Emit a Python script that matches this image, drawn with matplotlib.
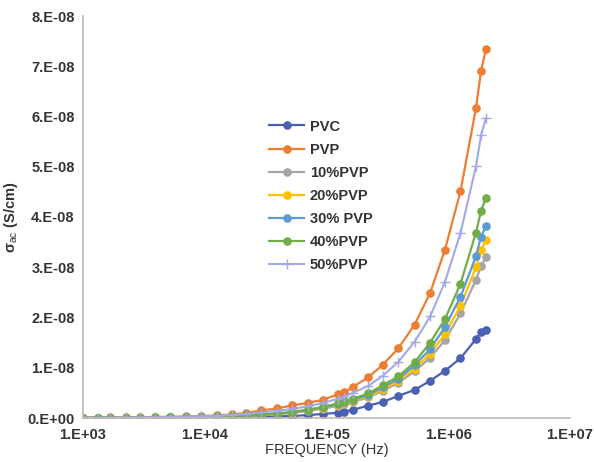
import matplotlib
matplotlib.use("Agg")
import matplotlib.pyplot as plt
from matplotlib.ticker import FuncFormatter, FixedLocator
import numpy as np

plt.rcParams['font.family'] = ['Liberation Sans', 'DejaVu Sans']
plt.rcParams['mathtext.fontset'] = 'custom'
plt.rcParams['mathtext.rm'] = 'Liberation Sans'

freq = [1000, 1340, 1670, 2250, 2940, 3900, 5200, 7000, 9400, 12500, 16600, 22000,
        29000, 39000, 52000, 70000, 93000, 124000, 140000, 165000, 220000, 290000,
        390000, 530000, 710000, 940000, 1260000, 1690000, 1860000, 2040000]

# values in units of 1e-8 S/cm
pvc = [0.002, 0.002, 0.003, 0.003, 0.004, 0.005, 0.006, 0.008, 0.010, 0.012, 0.015, 0.018,
       0.022, 0.030, 0.040, 0.058, 0.080, 0.105, 0.125, 0.165, 0.245, 0.32,
       0.44, 0.56, 0.74, 0.94, 1.19, 1.57, 1.71, 1.75]
pvp = [0.006, 0.008, 0.010, 0.012, 0.015, 0.020, 0.025, 0.030, 0.040, 0.050, 0.070, 0.100,
       0.150, 0.190, 0.250, 0.300, 0.360, 0.470, 0.510, 0.620, 0.810, 1.06,
       1.39, 1.86, 2.49, 3.35, 4.51, 6.17, 6.91, 7.34]
p10 = [0.003, 0.003, 0.004, 0.005, 0.006, 0.008, 0.010, 0.013, 0.017, 0.022, 0.030, 0.040,
       0.055, 0.075, 0.100, 0.140, 0.185, 0.240, 0.270, 0.320, 0.410, 0.54,
       0.70, 0.93, 1.20, 1.55, 2.08, 2.75, 3.02, 3.20]
p20 = [0.003, 0.004, 0.004, 0.005, 0.007, 0.009, 0.011, 0.014, 0.018, 0.024, 0.032, 0.043,
       0.058, 0.080, 0.108, 0.150, 0.200, 0.260, 0.290, 0.340, 0.430, 0.57,
       0.74, 0.98, 1.28, 1.67, 2.23, 3.00, 3.34, 3.54]
p30 = [0.003, 0.004, 0.005, 0.006, 0.007, 0.009, 0.012, 0.015, 0.019, 0.025, 0.034, 0.046,
       0.062, 0.085, 0.115, 0.155, 0.210, 0.270, 0.310, 0.360, 0.460, 0.61,
       0.78, 1.05, 1.37, 1.81, 2.41, 3.22, 3.61, 3.82]
p40 = [0.003, 0.004, 0.005, 0.006, 0.008, 0.010, 0.013, 0.017, 0.022, 0.030, 0.040, 0.050,
       0.070, 0.090, 0.120, 0.165, 0.220, 0.290, 0.330, 0.380, 0.490, 0.65,
       0.83, 1.11, 1.50, 1.97, 2.67, 3.69, 4.12, 4.38]
p50 = [0.005, 0.006, 0.008, 0.010, 0.012, 0.016, 0.020, 0.027, 0.035, 0.045, 0.060, 0.080,
       0.110, 0.140, 0.180, 0.230, 0.300, 0.380, 0.420, 0.500, 0.640, 0.84,
       1.12, 1.52, 2.02, 2.71, 3.68, 5.01, 5.63, 5.97]

labels = ['PVC', 'PVP', '10%PVP', '20%PVP', '30% PVP', '40%PVP', '50%PVP']
colors = ['#4A60B5', '#ED7D31', '#A5A5A5', '#FFC000', '#5B9BD5', '#70AD47', '#A3A8E6']
series = [pvc, pvp, p10, p20, p30, p40, p50]

xticks = [1e3, 1e4, 1e5, 1e6, 1e7]
yticks = [0, 1e-8, 2e-8, 3e-8, 4e-8, 5e-8, 6e-8, 7e-8, 8e-8]

fig = plt.figure(figsize=(5.94, 4.62), dpi=100)
ax = fig.add_axes([83/594, 1-418/462, 487/594, 402/462])

for vals, lab, col in zip(series, labels, colors):
    y = np.array(vals) * 1e-8
    if lab == '50%PVP':
        ax.plot(freq, y, color=col, lw=1.5, marker='+', ms=7, mew=1.0, label=lab)
    else:
        ax.plot(freq, y, color=col, lw=1.6, marker='o', ms=6.2, mew=0, label=lab)

ax.set_xscale('log')
ax.set_xlim(1e3, 1e7)
ax.set_ylim(0, 8e-8)
ax.xaxis.set_major_locator(FixedLocator(xticks))
ax.xaxis.set_minor_locator(FixedLocator([]))
ax.yaxis.set_major_locator(FixedLocator(yticks))


def yfmt(v, pos):
    if v == 0:
        return '0.E+00'
    e = int(np.floor(np.log10(abs(v)) + 1e-9))
    m = v / 10**e
    return f"{int(round(m))}.E{e:+03d}"


def xfmt(v, pos):
    e = int(round(np.log10(v)))
    return f"1.E{e:+03d}"


ax.yaxis.set_major_formatter(FuncFormatter(yfmt))
ax.xaxis.set_major_formatter(FuncFormatter(xfmt))

for s in ['top', 'right']:
    ax.spines[s].set_visible(False)
for s in ['left', 'bottom']:
    ax.spines[s].set_color('#BFB8B0')
    ax.spines[s].set_linewidth(1.2)

ax.tick_params(axis='both', length=0, labelsize=10.5, colors='#333333')
ax.tick_params(axis='y', pad=6)
ax.tick_params(axis='x', pad=7)
for t in ax.get_xticklabels() + ax.get_yticklabels():
    t.set_fontweight('bold')

ax.set_xlabel('FREQUENCY (Hz)', fontsize=10.5, color='#333333', labelpad=1)
ax.set_ylabel(r'σ$_{\mathrm{ac}}$ (S/cm)', fontsize=10.5, color='#333333',
              fontweight='bold', labelpad=5)

leg = ax.legend(loc='upper left', bbox_to_anchor=(0.355, 0.775), frameon=False,
                fontsize=10.5, handlelength=2.4, labelspacing=0.62, handletextpad=0.4)
for t in leg.get_texts():
    t.set_color('#333333')
    t.set_fontweight('bold')

fig.savefig('out.png', dpi=100)
